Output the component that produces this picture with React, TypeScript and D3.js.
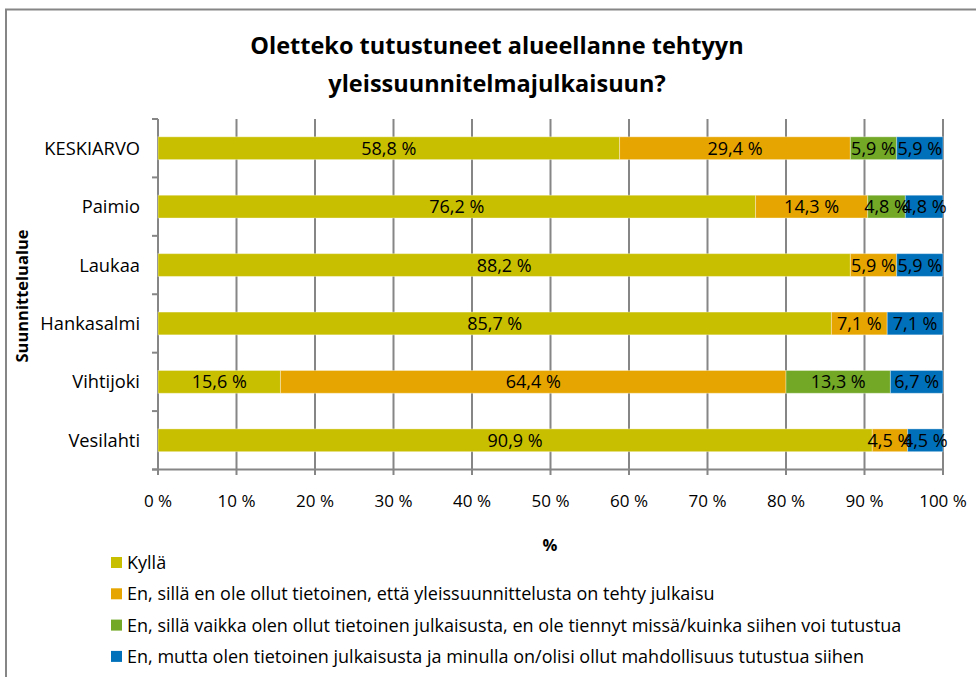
import React from "react";
import * as d3 from "d3";

const categories = ["KESKIARVO", "Paimio", "Laukaa", "Hankasalmi", "Vihtijoki", "Vesilahti"];
const seriesNames = [
  "Kyllä",
  "En, sillä en ole ollut tietoinen, että yleissuunnittelusta on tehty julkaisu",
  "En, sillä vaikka olen ollut tietoinen julkaisusta, en ole tiennyt missä/kuinka siihen voi tutustua",
  "En, mutta olen tietoinen julkaisusta ja minulla on/olisi ollut mahdollisuus tutustua siihen",
];
const kylla = [58.8, 76.2, 88.2, 85.7, 15.6, 90.9];
const enTietoinen = [29.4, 14.3, 5.9, 7.1, 64.4, 4.5];
const enTiennyt = [5.9, 4.8, 0, 0, 13.3, 0];
const enMahdollisuus = [5.9, 4.8, 5.9, 7.1, 6.7, 4.5];
const xTicks = [0, 10, 20, 30, 40, 50, 60, 70, 80, 90, 100];
const colors = ["#C8BF00", "#E6A500", "#72A826", "#0070BA"];

const W = 976;
const H = 677;
const FONT = "'Open Sans', Lato, sans-serif";

export default function App() {
  const x = d3.scaleLinear().domain([0, 100]).range([158, 943]);
  const y = d3.scaleBand().domain(categories).range([119, 469.5]).paddingInner(0.61).paddingOuter(0.305);
  const step = y.step();
  const series = [kylla, enTietoinen, enTiennyt, enMahdollisuus];
  const rows = categories.map((c, i) => {
    const o: any = { cat: c };
    series.forEach((s, j) => (o["s" + j] = s[i]));
    return o;
  });
  const stack = d3.stack().keys(["s0", "s1", "s2", "s3"]).offset(d3.stackOffsetExpand)(rows);
  const fmt = (v: number) => v.toFixed(1).replace(".", ",") + " %";

  return (
    <div style={{ position: "absolute", left: 0, top: 0 }}>
      <svg width={W} height={H} style={{ display: "block", fontFamily: FONT }}>
        <rect x={0} y={0} width={W} height={H} fill="#fff" />
        <rect x={6} y={9.5} width={1000} height={1000} fill="#fff" stroke="#868686" strokeWidth={2} />
        <text x={497} y={54} textAnchor="middle" fontSize={23.5} fontWeight="bold" fill="#000">
          Oletteko tutustuneet alueellanne tehtyyn
        </text>
        <text x={497} y={92} textAnchor="middle" fontSize={23.5} fontWeight="bold" fill="#000">
          yleissuunnitelmajulkaisuun?
        </text>
        {/* gridlines */}
        {xTicks.map((t) => (
          <line key={"g" + t} x1={x(t)} x2={x(t)} y1={119} y2={475} stroke="#868686" strokeWidth={2} />
        ))}
        {/* y axis */}
        <line x1={158} x2={158} y1={119} y2={469.5} stroke="#868686" strokeWidth={2} />
        {d3.range(categories.length + 1).map((i) => (
          <line key={"yt" + i} x1={152} x2={158} y1={119 + i * step} y2={119 + i * step} stroke="#868686" strokeWidth={2} />
        ))}
        <line x1={152} x2={944} y1={469.5} y2={469.5} stroke="#868686" strokeWidth={2} />
        {/* bars */}
        {stack.map((layer, j) =>
          layer.map((d, i) => {
            const w = x(d[1] * 100) - x(d[0] * 100);
            if (w <= 0) return null;
            return (
              <rect
                key={"b" + j + "-" + i}
                x={x(d[0] * 100)}
                y={y(categories[i])}
                width={w}
                height={y.bandwidth()}
                fill={colors[j]}
                stroke="#ffffff"
                strokeOpacity={0.35}
                strokeWidth={1}
              />
            );
          })
        )}
        {stack.map((layer, j) =>
          layer.map((d, i) => {
            const v = series[j][i];
            if (!v) return null;
            return (
              <text
                key={"l" + j + "-" + i}
                x={(x(d[0] * 100) + x(d[1] * 100)) / 2}
                y={(y(categories[i]) as number) + y.bandwidth() / 2}
                dy="0.36em"
                textAnchor="middle"
                fontSize={18}
                fill="#000"
              >
                {fmt(v)}
              </text>
            );
          })
        )}
        {/* category labels */}
        {categories.map((c) => (
          <text key={"c" + c} x={140} y={(y(c) as number) + y.bandwidth() / 2} dy="0.36em" textAnchor="end" fontSize={18.3} fill="#000">
            {c}
          </text>
        ))}
        {/* x tick labels */}
        {xTicks.map((t) => (
          <text key={"xl" + t} x={x(t)} y={507} textAnchor="middle" fontSize={17} fill="#000">
            {t + " %"}
          </text>
        ))}
        <text x={550} y={551} textAnchor="middle" fontSize={16.5} fontWeight="bold" fill="#000">
          %
        </text>
        <text
          transform={`translate(28,296) rotate(-90)`}
          textAnchor="middle"
          fontSize={16.5}
          fontWeight="bold"
          fill="#000"
        >
          Suunnittelualue
        </text>
        {/* legend */}
        {seriesNames.map((n, j) => (
          <g key={"lg" + j} transform={`translate(111, ${557 + j * 31.3})`}>
            <rect x={0} y={0} width={11} height={11} fill={colors[j]} />
            <text x={16} y={5.5} dy="0.36em" fontSize={18} fill="#000">
              {n}
            </text>
          </g>
        ))}
      </svg>
    </div>
  );
}
